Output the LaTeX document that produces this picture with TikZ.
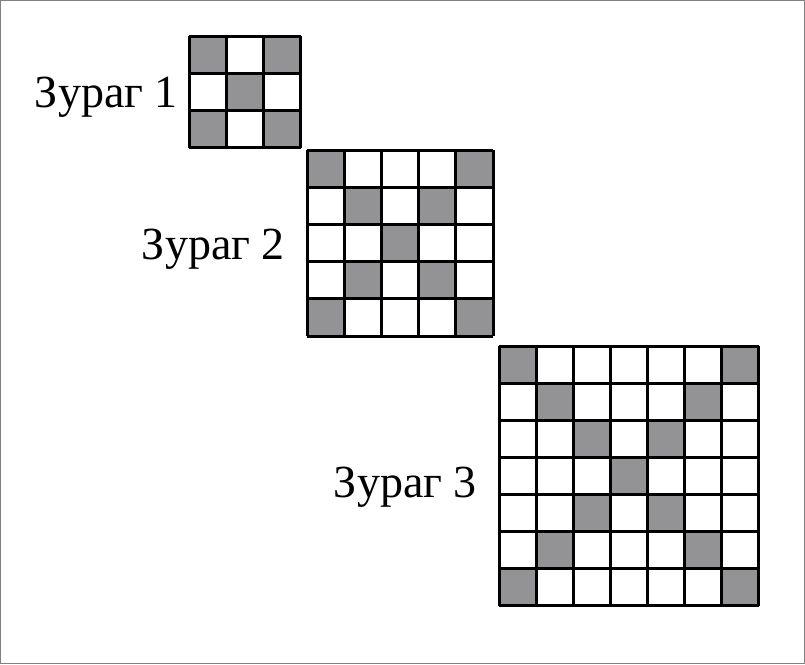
\documentclass[tikz,border=0pt]{standalone}
\usepackage{fontspec}
\setmainfont{Liberation Serif}
\definecolor{cellgray}{HTML}{939396}
\definecolor{framegray}{HTML}{808080}
\tikzset{
  gridline/.style={line width=3pt, black},
  lbl/.style={anchor=base east, inner sep=0pt, font=\fontsize{46}{52}\selectfont},
}
\begin{document}
\begin{tikzpicture}[x=1pt,y=-1pt]
\useasboundingbox (0,0) rectangle (805,664);
\draw[framegray, line width=1pt] (0.5,0.5) rectangle (804.5,663.5);
% grid generator: x0, y0, n, cell
\foreach \xo/\yo/\n/\c in {189/36/3/37.33, 307/150/5/37.2, 499/346/7/37.07}{
  \pgfmathtruncatemacro{\m}{\n-1}
  \foreach \i in {0,...,\m}{
    \foreach \j in {0,...,\m}{
      \pgfmathtruncatemacro{\s}{\i+\j}
      \ifnum\i=\j
        \fill[cellgray] (\xo+\i*\c,\yo+\j*\c) rectangle ++(\c,\c);
      \else\ifnum\s=\m
        \fill[cellgray] (\xo+\i*\c,\yo+\j*\c) rectangle ++(\c,\c);
      \fi\fi
    }
  }
  \foreach \k in {0,...,\n}{
    \draw[gridline] (\xo+\k*\c,\yo) -- (\xo+\k*\c,\yo+\n*\c);
    \draw[gridline] (\xo,\yo+\k*\c) -- (\xo+\n*\c,\yo+\k*\c);
  }
}
\node[lbl] (l1) at (178,107) {Зураг 1};
\node[lbl] (l2) at (285,259) {Зураг 2};
\node[lbl] (l3) at (477,497) {Зураг 3};
\end{tikzpicture}
\end{document}
